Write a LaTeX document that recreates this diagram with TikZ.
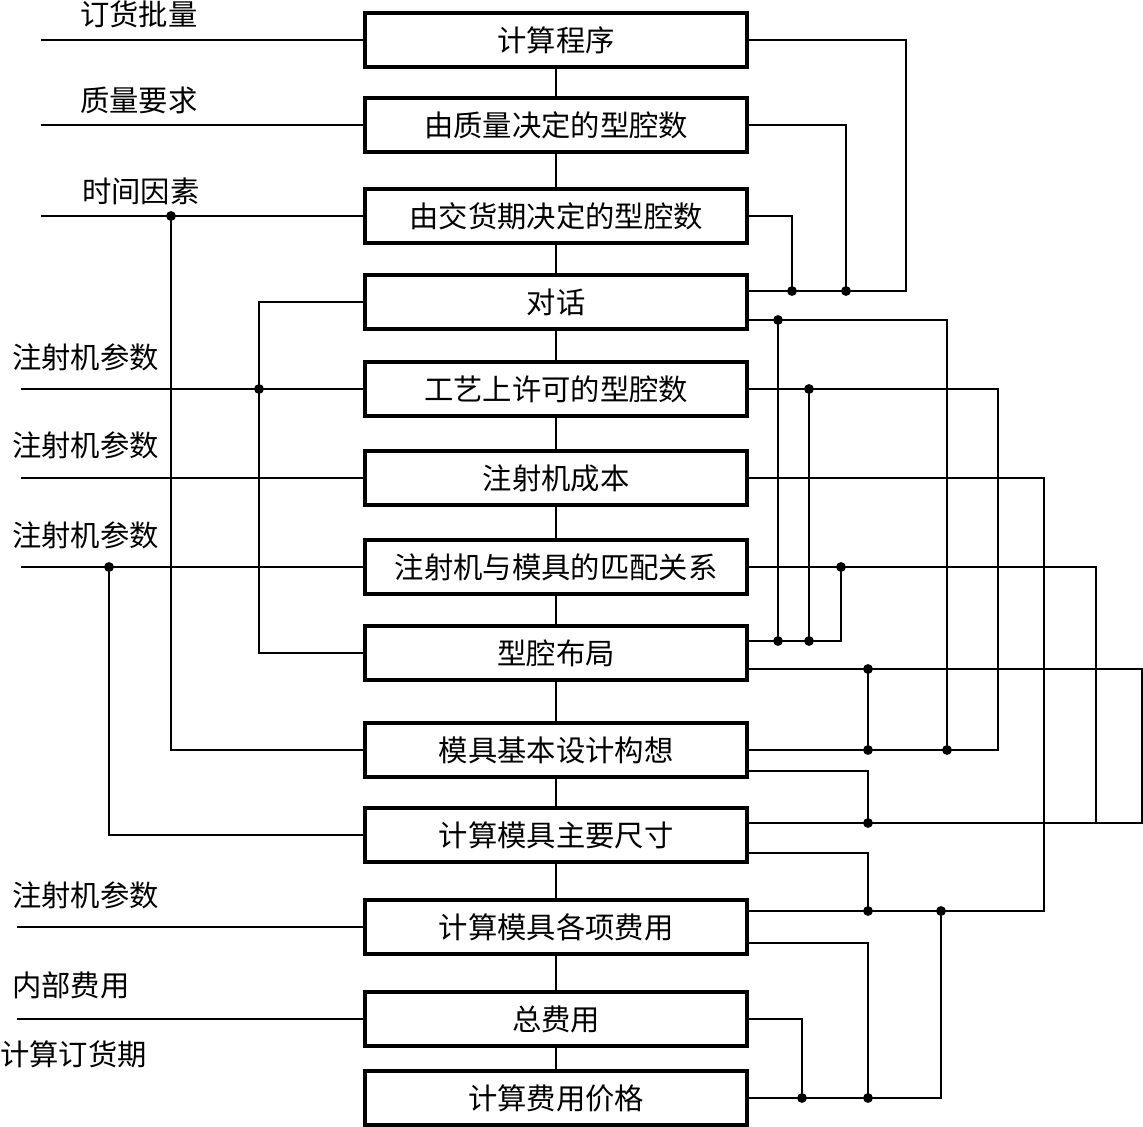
\documentclass[tikz,border=0pt]{standalone}
\usepackage{fontspec}
\setmainfont{Noto Sans CJK SC}
\begin{document}
\begin{tikzpicture}[x=0.75pt,y=-0.75pt,
  box/.style={draw,line width=2.8pt,minimum width=286.7pt,minimum height=40pt,inner sep=0pt,font=\fontsize{22}{24}\selectfont},
  lbl/.style={anchor=west,inner sep=0pt,font=\fontsize{22}{24}\selectfont},
  wire/.style={line width=1.2pt},
  dotr/.style={fill=black}]
\useasboundingbox (0,0) rectangle (1143,1127);
% boxes
\node[box] (b1)  at (556,40)   {计算程序};
\node[box] (b2)  at (556,125)  {由质量决定的型腔数};
\node[box] (b3)  at (556,216)  {由交货期决定的型腔数};
\node[box] (b4)  at (556,302)  {对话};
\node[box] (b5)  at (556,389)  {工艺上许可的型腔数};
\node[box] (b6)  at (556,478)  {注射机成本};
\node[box] (b7)  at (556,567)  {注射机与模具的匹配关系};
\node[box] (b8)  at (556,653)  {型腔布局};
\node[box] (b9)  at (556,750)  {模具基本设计构想};
\node[box] (b10) at (556,835)  {计算模具主要尺寸};
\node[box] (b11) at (556,927)  {计算模具各项费用};
\node[box] (b12) at (556,1019) {总费用};
\node[box] (b13) at (556,1098) {计算费用价格};
% labels
\node[lbl] (l1) at (80,14)   {订货批量};
\node[lbl] (l2) at (80,100)  {质量要求};
\node[lbl] (l3) at (82,191)  {时间因素};
\node[lbl] (l4) at (12,357)  {注射机参数};
\node[lbl] (l5) at (12,445)  {注射机参数};
\node[lbl] (l6) at (12,535)  {注射机参数};
\node[lbl] (l7) at (12,895)  {注射机参数};
\node[lbl] (l8) at (12,985)  {内部费用};
\node[lbl] (l9) at (0,1054)  {计算订货期};
% vertical chain
\foreach \a/\b in {b1/b2,b2/b3,b3/b4,b4/b5,b5/b6,b6/b7,b7/b8,b8/b9,b9/b10,b10/b11,b11/b12,b12/b13}
  \draw[wire] (\a) -- (\b);
% input coordinates
\coordinate (i1) at (41,40);
\coordinate (i2) at (41,125);
\coordinate (i3) at (41,216);
\coordinate (i5) at (21,389);
\coordinate (i6) at (21,478);
\coordinate (i7) at (21,567);
\coordinate (i11) at (17,927);
\coordinate (i12) at (17,1019);
% junction coordinates
\coordinate (d1) at (171,216);
\coordinate (d2) at (259,389);
\coordinate (d3) at (109,567);
\coordinate (d4) at (792,291);
\coordinate (d5) at (846,291);
\coordinate (d6) at (778,320);
\coordinate (d7) at (947,750);
\coordinate (d8) at (778,641);
\coordinate (d9) at (809,389);
\coordinate (d10) at (868,750);
\coordinate (d11) at (809,641);
\coordinate (d12) at (868,911);
\coordinate (d13) at (941,911);
\coordinate (d14) at (841,567);
\coordinate (d15) at (868,669);
\coordinate (d16) at (868,823);
\coordinate (d17) at (802,1098);
\coordinate (d18) at (868,1098);
% corner coordinates
\coordinate (cA) at (906,291);
\coordinate (cE) at (998,750);
\coordinate (cF) at (1044,911);
\coordinate (cG) at (1096,823);
\coordinate (cH) at (1142,823);
% side points of boxes
\coordinate (r4a) at (b4.east |- 0,291);
\coordinate (r4b) at (b4.east |- 0,320);
\coordinate (r8a) at (b8.east |- 0,641);
\coordinate (r8b) at (b8.east |- 0,669);
\coordinate (r9b) at (b9.east |- 0,771);
\coordinate (r10a) at (b10.east |- 0,823);
\coordinate (r10b) at (b10.east |- 0,853);
\coordinate (r11a) at (b11.east |- 0,911);
\coordinate (r11b) at (b11.east |- 0,943);
% left inputs
\draw[wire] (i1) -- (b1.west);
\draw[wire] (i2) -- (b2.west);
\draw[wire] (i3) -- (b3.west);
\draw[wire] (i5) -- (b5.west);
\draw[wire] (i6) -- (b6.west);
\draw[wire] (i7) -- (b7.west);
\draw[wire] (i11) -- (b11.west);
\draw[wire] (i12) -- (b12.west);
\draw[wire] (d1) |- (b9.west);
\draw[wire] (b4.west) -| (d2) |- (b8.west);
\draw[wire] (d3) |- (b10.west);
% right side
\draw[wire] (b1.east) -| (cA) -- (r4a);
\draw[wire] (b2.east) -| (d5);
\draw[wire] (b3.east) -| (d4);
\draw[wire] (r4b) -| (d7);
\draw[wire] (d6) -- (d8);
\draw[wire] (b5.east) -| (cE) -- (b9.east);
\draw[wire] (d9) -- (d11);
\draw[wire] (b6.east) -| (cF) -- (r11a);
\draw[wire] (b7.east) -| (cG);
\draw[wire] (r8a) -| (d14);
\draw[wire] (r8b) -| (cH) -- (r10a);
\draw[wire] (d15) -- (d10);
\draw[wire] (r9b) -| (d16);
\draw[wire] (r10b) -| (d12);
\draw[wire] (d13) |- (b13.east);
\draw[wire] (r11b) -| (d18);
\draw[wire] (b12.east) -| (d17);
% dots
\foreach \p in {d1,d2,d3,d4,d5,d6,d7,d8,d9,d10,d11,d12,d13,d14,d15,d16,d17,d18}
  \fill[dotr] (\p) circle (3.7pt);
\end{tikzpicture}
\end{document}
